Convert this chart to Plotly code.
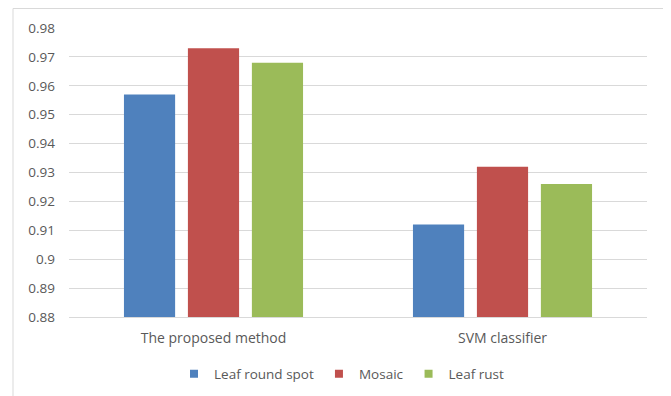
import plotly.graph_objects as go

categories = ["The proposed method", "SVM classifier"]
leaf_round_spot = [0.957, 0.912]
mosaic = [0.973, 0.932]
leaf_rust = [0.968, 0.926]
series_names = ["Leaf round spot", "Mosaic", "Leaf rust"]
colors = ["#4F81BD", "#C0504D", "#9BBB59"]
y_ticks = [0.88, 0.89, 0.90, 0.91, 0.92, 0.93, 0.94, 0.95, 0.96, 0.97, 0.98]
y_tick_text = ["0.88", "0.89", "0.9", "0.91", "0.92", "0.93", "0.94", "0.95", "0.96", "0.97", "0.98"]

fig = go.Figure()
for name, vals, c in zip(series_names, [leaf_round_spot, mosaic, leaf_rust], colors):
    fig.add_trace(go.Bar(x=categories, y=vals, name=name, legendgroup=name, showlegend=False,
                         marker=dict(color=c, line=dict(width=0))))
# legend-only entries with small square keys
for name, c in zip(series_names, colors):
    fig.add_trace(go.Scatter(x=[None], y=[None], mode="markers", name=name, legendgroup=name,
                             marker=dict(symbol="square", size=8, color=c)))

# page body has an 8px default margin, so the figure is drawn 8px smaller
W, H = 663, 388
ml, mr, mt, mb = 61, 24, 20, 79
pw = W - ml - mr
ph = H - mt - mb

def px(x):
    return (x - ml) / pw

def py(y):
    return (H - mb - y) / ph

FONT = "Open Sans, Liberation Sans, sans-serif"
GRAY = "#595959"

fig.update_layout(
    width=W, height=H,
    margin=dict(l=ml, r=mr, t=mt, b=mb, autoexpand=False),
    paper_bgcolor="white", plot_bgcolor="white",
    barmode="group", bargap=0.336, bargroupgap=0.2,
    font=dict(family=FONT, size=13, color=GRAY),
    legend=dict(orientation="h", x=0.5 + 2 / W, xanchor="center", xref="container",
                y=1 - 366 / H, yanchor="middle", yref="container",
                font=dict(size=13.5, color=GRAY), itemwidth=30, traceorder="normal"),
    showlegend=True,
    yaxis=dict(range=[0.88, 0.98], tickvals=y_ticks, ticktext=y_tick_text, showgrid=True,
               gridcolor="#D9D9D9", gridwidth=1, zeroline=False, showline=False, ticks="",
               ticklabelstandoff=13, automargin=False,
               tickfont=dict(size=13.5, color=GRAY)),
    xaxis=dict(showline=True, linecolor="#D9D9D9", linewidth=1, ticks="", automargin=False,
               ticklabelstandoff=8, tickfont=dict(size=14, color=GRAY)),
    shapes=[dict(type="rect", xref="paper", yref="paper", x0=px(5), x1=px(659), y0=py(400), y1=py(0.5),
                 line=dict(color="#D9D9D9", width=1), layer="below")],
)
fig.write_html("out.html")
